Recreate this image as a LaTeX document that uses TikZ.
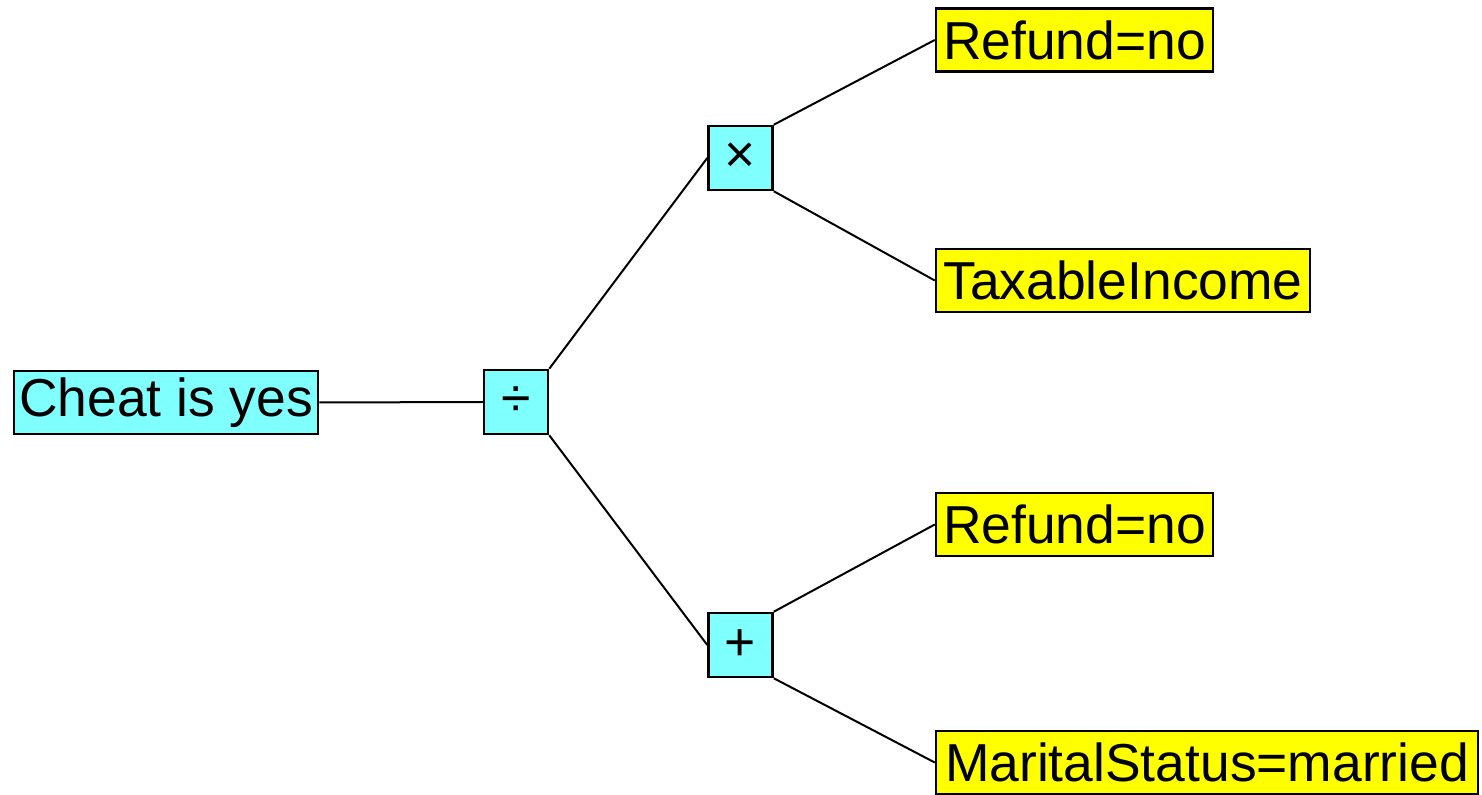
\documentclass[tikz,border=0pt]{standalone}
\usepackage{fontspec}
\setmainfont{Liberation Sans}
\definecolor{opcyan}{RGB}{128,255,255}
\definecolor{leafyellow}{RGB}{255,255,0}
\tikzset{
  treebox/.style={draw=black, line width=0.025cm, inner sep=0pt, minimum height=0.63cm,
    font=\fontsize{15.2}{18}\selectfont},
  opbox/.style={treebox, fill=opcyan, minimum width=0.64cm, minimum height=0.64cm},
  goalbox/.style={treebox, fill=opcyan},
  leafbox/.style={treebox, fill=leafyellow},
  edge/.style={line width=0.02cm}
}
\begin{document}
\begin{tikzpicture}
                \useasboundingbox (0,0) rectangle (14.82,7.94);
                
                % Root goal
                \node [goalbox, minimum width=3.04cm] (cheat) at (1.66,3.915) {Cheat is yes};
                
                % Operator nodes
                \node [opbox] (div) at (5.16,3.92) {÷};
                \node [opbox] (times) at (7.405,6.36) {×};
                \node [opbox] (plus) at (7.405,1.49) {+};
                
                % Leaf nodes
                \node [leafbox, minimum width=2.77cm] (refundA) at (10.745,7.54) {Refund=no};
                \node [leafbox, minimum width=3.74cm] (income) at (11.23,5.135) {TaxableIncome};
                \node [leafbox, minimum width=2.77cm] (refundB) at (10.745,2.695) {Refund=no};
                \node [leafbox, minimum width=5.42cm] (marital) at (12.07,0.315) {MaritalStatus=married};
                
                % Drawing edges
                \draw [edge] (cheat.east) -- (div.west);%
                \draw [edge] (div.north east) -- (times.west);%
                \draw [edge] (div.south east) -- (plus.west);%
                \draw [edge] (times.north east) -- (refundA.west);%
                \draw [edge] (times.south east) -- (income.west);%
                \draw [edge] (plus.north east) -- (refundB.west);%
                \draw [edge] (plus.south east) -- (marital.west);%
\end{tikzpicture}
\end{document}
